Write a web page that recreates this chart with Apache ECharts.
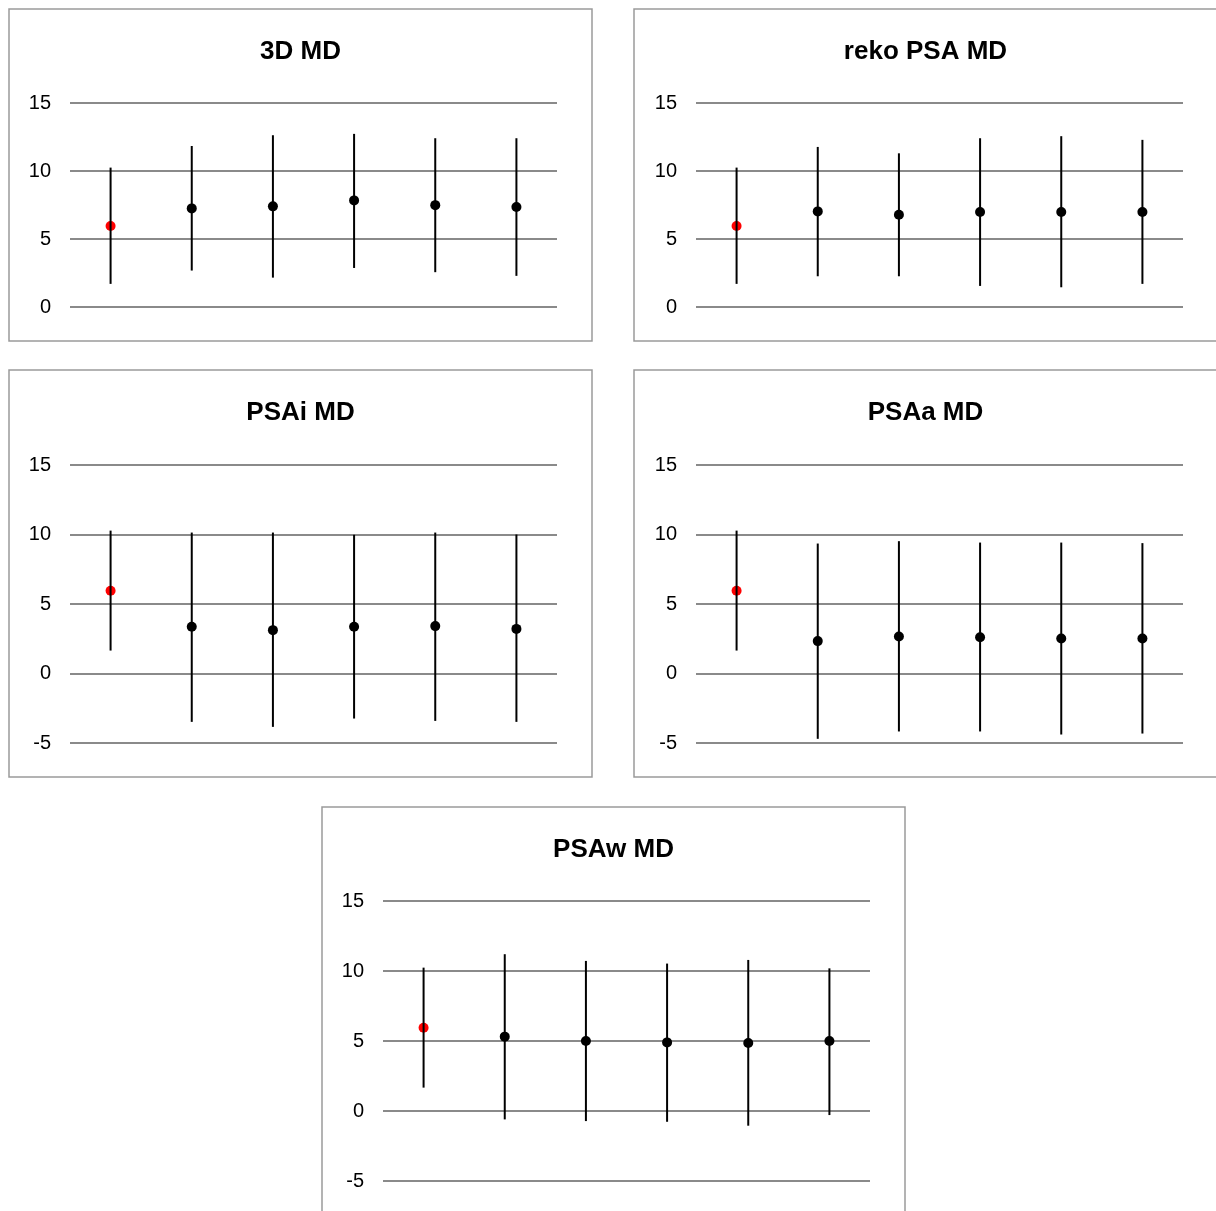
<!DOCTYPE html>
<html>
<head>
<meta charset="utf-8">
<script src="https://cdn.jsdelivr.net/npm/echarts@6/dist/echarts.min.js"></script>
<style>
  html, body { margin: 0; padding: 0; background: #fff; }
  #chart { width: 1216px; height: 1211px; }
</style>
</head>
<body>
<div id="chart"></div>
<script>
// Six measurements per panel; the first one (shown in red) is the reference.
const categories = ['1', '2', '3', '4', '5', '6'];

const titles = ['3D MD', 'reko PSA MD', 'PSAi MD', 'PSAa MD', 'PSAw MD'];

// Mean values
const mean3D    = [5.95, 7.25, 7.40, 7.84, 7.49, 7.35];
const meanReko  = [5.95, 7.03, 6.78, 6.98, 6.98, 6.98];
const meanPSAi  = [5.95, 3.36, 3.12, 3.36, 3.41, 3.21];
const meanPSAa  = [5.95, 2.33, 2.66, 2.61, 2.52, 2.52];
const meanPSAw  = [5.95, 5.31, 5.00, 4.90, 4.86, 5.00];

// Lower ends of the intervals
const low3D     = [1.70, 2.68, 2.16, 2.87, 2.56, 2.29];
const lowReko   = [1.70, 2.26, 2.26, 1.55, 1.45, 1.70];
const lowPSAi   = [1.65, -3.48, -3.84, -3.24, -3.41, -3.48];
const lowPSAa   = [1.65, -4.70, -4.17, -4.17, -4.39, -4.32];
const lowPSAw   = [1.67, -0.60, -0.72, -0.77, -1.05, -0.29];

// Upper ends of the intervals
const high3D    = [10.25, 11.84, 12.63, 12.73, 12.41, 12.41];
const highReko  = [10.25, 11.77, 11.30, 12.41, 12.56, 12.29];
const highPSAi  = [10.28, 10.14, 10.14, 9.98, 10.14, 10.00];
const highPSAa  = [10.28, 9.35, 9.52, 9.42, 9.42, 9.38];
const highPSAw  = [10.24, 11.20, 10.72, 10.53, 10.79, 10.19];

// Y-axis ranges (tick step 5)
const yMin = [0, 0, -5, -5, -5];
const yMax = [15, 15, 15, 15, 15];

const means = [mean3D, meanReko, meanPSAi, meanPSAa, meanPSAw];
const lows  = [low3D, lowReko, lowPSAi, lowPSAa, lowPSAw];
const highs = [high3D, highReko, highPSAi, highPSAa, highPSAw];

// Panel frames and plotting areas, in pixels
const layout = [
  { box: [9, 9, 583, 332],     grid: { left: 70,  top: 103, width: 487, height: 204 }, titleTop: 34 },
  { box: [634, 9, 583, 332],   grid: { left: 696, top: 103, width: 487, height: 204 }, titleTop: 34 },
  { box: [9, 370, 583, 407],   grid: { left: 70,  top: 465, width: 487, height: 278 }, titleTop: 395 },
  { box: [634, 370, 583, 407], grid: { left: 696, top: 465, width: 487, height: 278 }, titleTop: 395 },
  { box: [322, 807, 583, 407], grid: { left: 383, top: 901, width: 487, height: 280 }, titleTop: 832 }
];

const FONT = '"Liberation Sans", Arial, sans-serif';
const REF_COLOR = '#ff0000';
const POINT_COLOR = '#000000';

const option = {
  backgroundColor: '#ffffff',
  animation: false,
  title: layout.map((l, i) => ({
    text: titles[i],
    left: l.box[0] + l.box[2] / 2 - 5,
    top: l.titleTop,
    textAlign: 'center',
    textStyle: { fontFamily: FONT, fontSize: 26, fontWeight: 'bold', color: '#000' }
  })),
  graphic: layout.map(l => ({
    type: 'rect',
    shape: { x: l.box[0], y: l.box[1], width: l.box[2], height: l.box[3] },
    style: { fill: 'none', stroke: '#9a9a9a', lineWidth: 1.5 },
    z: 0
  })),
  grid: layout.map(l => Object.assign({ containLabel: false }, l.grid)),
  xAxis: layout.map((l, i) => ({
    type: 'category',
    gridIndex: i,
    data: categories,
    boundaryGap: true,
    axisLine: { show: false },
    axisTick: { show: false },
    axisLabel: { show: false },
    splitLine: { show: false }
  })),
  yAxis: layout.map((l, i) => ({
    type: 'value',
    gridIndex: i,
    min: yMin[i],
    max: yMax[i],
    interval: 5,
    axisLine: { show: false },
    axisTick: { show: false },
    axisLabel: { fontFamily: FONT, fontSize: 20, color: '#000', margin: 19, padding: [6, 0, 0, 0] },
    splitLine: { lineStyle: { color: '#8a8a8a', width: 2 } }
  })),
  series: []
};

means.forEach((m, i) => {
  option.series.push({
    type: 'scatter',
    xAxisIndex: i,
    yAxisIndex: i,
    symbol: 'circle',
    symbolSize: 10,
    z: 2,
    data: m.map((v, k) => ({
      value: [k, v],
      itemStyle: { color: k === 0 ? REF_COLOR : POINT_COLOR, opacity: 1 }
    }))
  });
  option.series.push({
    type: 'custom',
    xAxisIndex: i,
    yAxisIndex: i,
    z: 3,
    encode: { x: 0, y: [1, 2] },
    data: lows[i].map((lo, k) => [k, lo, highs[i][k]]),
    renderItem: function (params, api) {
      const x = api.value(0);
      const p1 = api.coord([x, api.value(1)]);
      const p2 = api.coord([x, api.value(2)]);
      return {
        type: 'line',
        shape: { x1: p1[0], y1: p1[1], x2: p2[0], y2: p2[1] },
        style: { stroke: '#000', lineWidth: 2 }
      };
    }
  });
});

const chart = echarts.init(document.getElementById('chart'), null, { renderer: 'canvas' });
chart.setOption(option);
</script>
</body>
</html>
